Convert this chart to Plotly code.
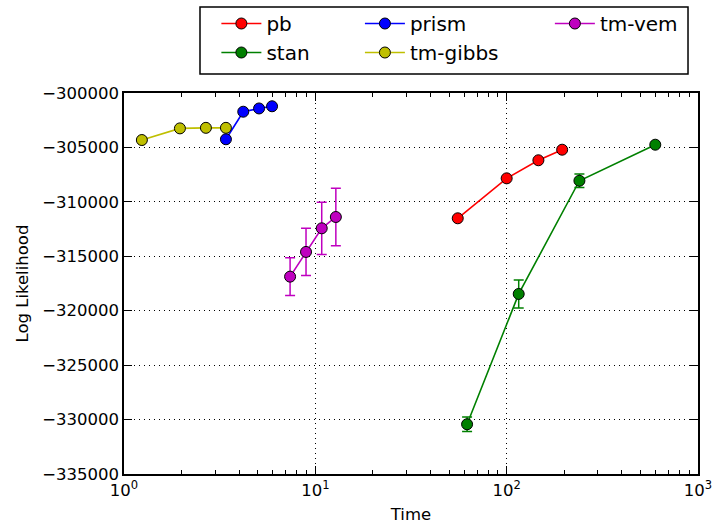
import plotly.graph_objects as go

# ---- data ----
pb_time = [55.5, 100, 146.5, 195]
pb_ll = [-311510, -307840, -306180, -305210]
pb_err = [0, 0, 0, 0]

stan_time = [62.1, 115.6, 240, 598]
stan_ll = [-330430, -318460, -308060, -304750]
stan_err = [660, 1290, 620, 0]

prism_time = [3.41, 4.2, 5.08, 5.94]
prism_ll = [-304250, -301720, -301420, -301220]
prism_err = [0, 0, 0, 0]

gibbs_time = [1.24, 1.96, 2.68, 3.41]
gibbs_ll = [-304320, -303250, -303200, -303200]
gibbs_err = [0, 0, 0, 0]

vem_time = [7.38, 8.94, 10.8, 12.8]
vem_ll = [-316870, -314600, -312430, -311390]
vem_err = [1730, 2170, 2400, 2650]

y_ticks = [-335000, -330000, -325000, -320000, -315000, -310000, -305000, -300000]
y_ticktext = ["\u2212335000", "\u2212330000", "\u2212325000", "\u2212320000",
              "\u2212315000", "\u2212310000", "\u2212305000", "\u2212300000"]
x_ticks = [1, 10, 100, 1000]
x_ticktext = ["10<sup>0</sup>", "10<sup>1</sup>", "10<sup>2</sup>", "10<sup>3</sup>"]
x_minor = [k * 10 ** e for e in range(0, 3) for k in range(2, 10)]

# name, x, y, err, colour, legend column
series = [
    ("pb", pb_time, pb_ll, pb_err, "#FF0000", "legend"),
    ("stan", stan_time, stan_ll, stan_err, "#008000", "legend"),
    ("prism", prism_time, prism_ll, prism_err, "#0000FF", "legend2"),
    ("tm-gibbs", gibbs_time, gibbs_ll, gibbs_err, "#BFBF00", "legend2"),
    ("tm-vem", vem_time, vem_ll, vem_err, "#BF00BF", "legend3"),
]

fig = go.Figure()
for name, x, y, e, c, leg in series:
    fig.add_trace(go.Scatter(
        x=x, y=y, name=name, mode="lines+markers",
        line=dict(color=c, width=1.6),
        marker=dict(color=c, size=11, line=dict(color="black", width=1)),
        error_y=dict(type="data", array=e, visible=True, color=c, thickness=1.5, width=5),
        legend=leg, legendgroup=name,
    ))

axis_common = dict(
    showline=True, linecolor="black", linewidth=1.5, mirror="ticks",
    ticks="inside", ticklen=8, tickwidth=1, tickcolor="black",
    showgrid=True, gridcolor="black", griddash="1px,4px", gridwidth=1,
    zeroline=False, tickfont=dict(size=16.5, color="black"), automargin=False,
    ticklabeloverflow="allow",
)

fig.update_xaxes(
    type="log", range=[0, 3], tickmode="array", tickvals=x_ticks, ticktext=x_ticktext,
    title=dict(text="Time", font=dict(size=16.5, color="black"), standoff=10),
    minor=dict(ticks="inside", ticklen=4, tickcolor="black", tickmode="array",
               tickvals=x_minor, showgrid=False),
    **axis_common,
)
fig.update_yaxes(
    range=[-335000, -300000], tickmode="array", tickvals=y_ticks, ticktext=y_ticktext,
    **axis_common,
)

leg_common = dict(
    orientation="v", yanchor="top", xanchor="left", y=0.9924,
    xref="container", yref="container",
    bgcolor="rgba(0,0,0,0)", borderwidth=0,
    font=dict(size=20, color="black"), tracegroupgap=0, itemwidth=40,
)

fig.update_layout(
    width=712, height=527,
    margin=dict(l=124, r=14, t=93, b=53, autoexpand=False),
    plot_bgcolor="white", paper_bgcolor="white",
    font=dict(family="DejaVu Sans", color="black"),
    legend=dict(x=0.3039, **leg_common),
    legend2=dict(x=0.5055, **leg_common),
    legend3=dict(x=0.7723, **leg_common),
    showlegend=True,
    shapes=[dict(type="rect", xref="paper", yref="paper",
                 x0=0.1324, x1=0.9826, y0=1.0499, y1=1.2257,
                 line=dict(color="black", width=1.5), fillcolor="white", layer="above")],
    annotations=[dict(text="Log Likelihood", xref="paper", yref="paper",
                      x=-0.1777, y=0.5, xanchor="center", yanchor="middle",
                      textangle=-90, showarrow=False,
                      font=dict(size=16.5, color="black"))],
)

fig.write_html("out.html")
